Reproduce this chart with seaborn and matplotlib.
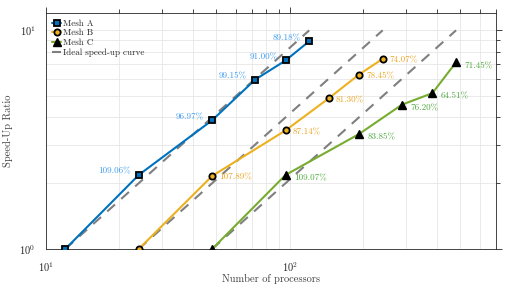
import numpy as np
import pandas as pd
import matplotlib
matplotlib.use('Agg')
import matplotlib.pyplot as plt
import matplotlib.ticker as mticker
import seaborn as sns

sns.set_style('whitegrid')
plt.rcParams['font.family'] = ['cmr10', 'DejaVu Serif']
plt.rcParams['mathtext.fontset'] = 'custom'
plt.rcParams['mathtext.rm'] = 'Liberation Sans'
plt.rcParams['mathtext.it'] = 'Liberation Sans'
plt.rcParams['axes.unicode_minus'] = False

### valores

procs_A = [12, 24, 48, 72, 96, 120]
speed_A = [1.0, 2.181, 3.879, 5.949, 7.280, 8.918]
labels_A = ['', '109.06%', '96.97%', '99.15%', '91.00%', '89.18%']

procs_B = [24, 48, 96, 144, 192, 240]
speed_B = [1.0, 2.158, 3.486, 4.878, 6.276, 7.407]
labels_B = ['', '107.89%', '87.14%', '81.30%', '78.45%', '74.07%']

procs_C = [48, 96, 192, 288, 384, 480]
speed_C = [1.0, 2.181, 3.354, 4.572, 5.161, 7.145]
labels_C = ['', '109.07%', '83.85%', '76.20%', '64.51%', '71.45%']

ideal_x = {'A': [12, 120], 'B': [24, 240], 'C': [48, 480]}
ideal_y = [1, 10]

cores = {'A': '#0072BD', 'B': '#EDB120', 'C': '#77AC30'}
cores_txt = {'A': '#3D9CF0', 'B': '#EDA520', 'C': '#4DAA3C'}
marcadores = {'A': 's', 'B': 'o', 'C': '^'}
# deslocamento dos rótulos (pontos)
desloc = {'A': (-6, 2.5, 'right'), 'B': (5, -1, 'left'), 'C': (6, -2.5, 'left')}

series = {
    'A': (procs_A, speed_A, labels_A),
    'B': (procs_B, speed_B, labels_B),
    'C': (procs_C, speed_C, labels_C),
}

fig = plt.figure(figsize=(5.26, 2.87), dpi=100)
ax = fig.add_axes([0.0875, 0.1324, 0.8555, 0.8223])

# curvas ideais
for k in ['A', 'B', 'C']:
    sns.lineplot(x=ideal_x[k], y=ideal_y, ax=ax, color='#7F7F7F', lw=1.5,
                 dashes=False, linestyle=(0, (5, 4)), zorder=2,
                 label='Ideal speed-up curve' if k == 'A' else None)

for k in ['A', 'B', 'C']:
    p, s, lab = series[k]
    df = pd.DataFrame({'p': p, 's': s})
    sns.lineplot(data=df, x='p', y='s', ax=ax, color=cores[k], lw=1.5,
                 marker=marcadores[k], markersize=4.5 if k != 'C' else 6,
                 markeredgecolor='black', markeredgewidth=1.3 if k != 'C' else 1.0,
                 markerfacecolor=cores[k] if k != 'C' else 'black',
                 zorder=3, label='Mesh ' + k)
    dx, dy, ha = desloc[k]
    for xi, yi, t in zip(p, s, lab):
        if not t:
            continue
        ax.annotate(t, (xi, yi), xytext=(dx, dy), textcoords='offset points',
                    ha=ha, va='center', fontsize=6.5, color=cores_txt[k])

ax.set_xscale('log')
ax.set_yscale('log')
ax.set_xlim(10, 700)
ax.set_ylim(1, 12)

ax.xaxis.set_major_locator(mticker.LogLocator(base=10, numticks=10))
ax.xaxis.set_minor_locator(mticker.LogLocator(base=10, subs=np.arange(2, 10), numticks=20))
ax.yaxis.set_major_locator(mticker.LogLocator(base=10, numticks=10))
ax.yaxis.set_minor_locator(mticker.LogLocator(base=10, subs=np.arange(2, 10), numticks=20))
ax.xaxis.set_major_formatter(mticker.LogFormatterMathtext())
ax.yaxis.set_major_formatter(mticker.LogFormatterMathtext())
ax.xaxis.set_minor_formatter(mticker.NullFormatter())
ax.yaxis.set_minor_formatter(mticker.NullFormatter())

ax.grid(True, which='both', color='#E6E6E6', lw=0.6)
ax.tick_params(which='both', direction='out', top=True, right=True,
               colors='#262626', labelsize=7.5, width=0.6)
ax.tick_params(which='major', length=4)
ax.tick_params(which='minor', length=3)
ax.tick_params(axis='x', pad=4)
for sp in ax.spines.values():
    sp.set_color('#262626')
    sp.set_linewidth(0.6)
ax.set_facecolor('white')

ax.set_xlabel('Number of processors', fontsize=7.5, color='#404040', va='center')
ax.set_ylabel('Speed-Up Ratio', fontsize=7.5, color='#404040', va='center')
ax.xaxis.set_label_coords(0.5, -0.125)
ax.yaxis.set_label_coords(-0.084, 0.5)

h, l = ax.get_legend_handles_labels()
ordem = [l.index('Mesh A'), l.index('Mesh B'), l.index('Mesh C'), l.index('Ideal speed-up curve')]
leg = ax.legend([h[i] for i in ordem], [l[i] for i in ordem], loc='upper left',
                frameon=False, fontsize=6.5, handlelength=1.0, handletextpad=0.2,
                labelspacing=0.15, borderaxespad=0.3)
for t in leg.get_texts():
    t.set_color('#262626')

fig.savefig('out.png', dpi=100)
